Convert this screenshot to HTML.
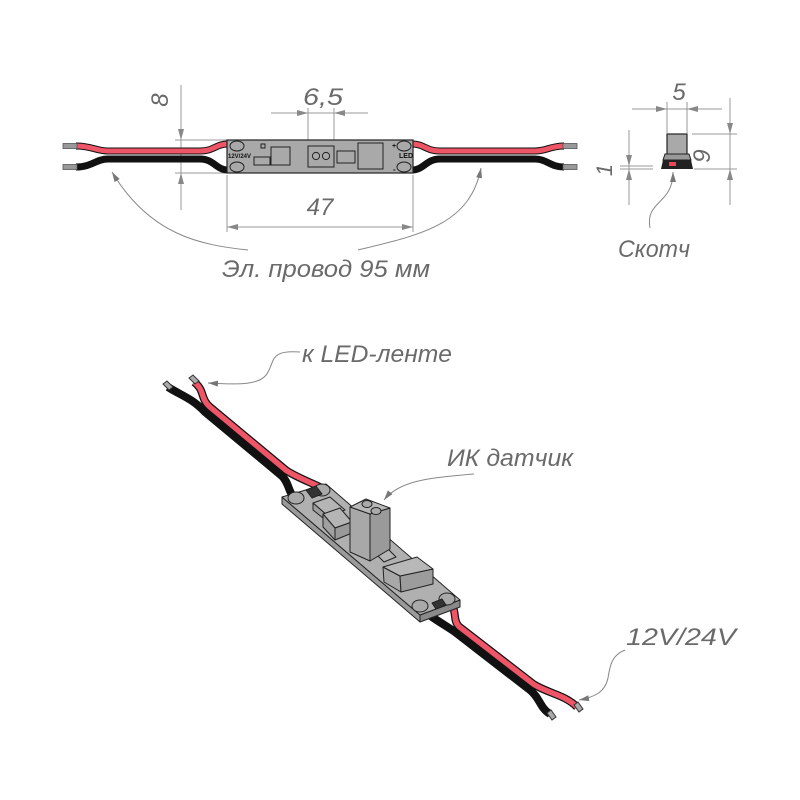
<!DOCTYPE html>
<html><head><meta charset="utf-8"><style>
html,body{margin:0;padding:0;background:#fff;}
svg{display:block}
text{font-family:"Liberation Sans",sans-serif;font-style:italic;fill:#6a6a6a;}
</style></head><body>
<svg width="800" height="800" viewBox="0 0 800 800" xmlns="http://www.w3.org/2000/svg">
<defs>
<marker id="a" viewBox="0 0 10 6" refX="10" refY="3" markerWidth="10" markerHeight="6" orient="auto" markerUnits="userSpaceOnUse"><path d="M0,0L10,3L0,6z" fill="#777"/></marker>
</defs>
<g stroke="#999" stroke-width="1" fill="none">
<line x1="181" y1="85" x2="181" y2="210"/>
<line x1="175" y1="140" x2="227" y2="140"/>
<line x1="175" y1="173" x2="227" y2="173"/>
<line x1="308" y1="108" x2="308" y2="140"/>
<line x1="334" y1="108" x2="334" y2="140"/>
<line x1="271" y1="113" x2="368" y2="113"/>
<line x1="227" y1="175" x2="227" y2="232"/>
<line x1="413" y1="175" x2="413" y2="232"/>
<line x1="227" y1="227" x2="413" y2="227"/>
<line x1="632" y1="109" x2="722" y2="109"/>
<line x1="667" y1="102" x2="667" y2="133"/>
<line x1="687" y1="102" x2="687" y2="133"/>
<line x1="730" y1="98" x2="730" y2="205"/>
<line x1="692" y1="134" x2="737" y2="134"/>
<line x1="694" y1="169" x2="737" y2="169"/>
<line x1="629" y1="130" x2="629" y2="205"/>
<line x1="620" y1="166" x2="653" y2="166"/>
<line x1="620" y1="169" x2="653" y2="169"/>
</g>
<g fill="#888">
<path d="M181,140l-3,-11h6z"/><path d="M181,173l-3,11h6z"/>
<path d="M308,113l-11,-3v6z"/><path d="M334,113l11,-3v6z"/>
<path d="M227,227l11,-3v6z"/><path d="M413,227l-11,-3v6z"/>
<path d="M667,109l-11,-3v6z"/><path d="M687,109l11,-3v6z"/>
<path d="M730,134l-3,-11h6z"/><path d="M730,169l-3,11h6z"/>
<path d="M629,166l-3,-11h6z"/><path d="M629,169l-3,11h6z"/>
</g>
<g fill="none" stroke-linecap="butt">
<path d="M76,167C92,167 96,159 108,159H200C214,159 216,170 228,170" stroke="#111" stroke-width="7"/>
<path d="M76,146C92,146 96,151 108,151H200C214,151 216,144 228,144" stroke="#111" stroke-width="7"/>
<path d="M76,146C92,146 96,151 108,151H200C214,151 216,144 228,144" stroke="#ee5566" stroke-width="5"/>
<path d="M412,170C424,170 426,159 440,159H535C547,159 550,167 564,167" stroke="#111" stroke-width="7"/>
<path d="M412,144C424,144 426,151 440,151H535C547,151 550,146 564,146" stroke="#111" stroke-width="7"/>
<path d="M412,144C424,144 426,151 440,151H535C547,151 550,146 564,146" stroke="#ee5566" stroke-width="5"/>
</g>
<g fill="#999" stroke="#555" stroke-width="0.8">
<rect x="63" y="143.5" width="14" height="5"/><rect x="63" y="164.5" width="14" height="5"/>
<rect x="563" y="143.5" width="14" height="5"/><rect x="563" y="164.5" width="14" height="5"/>
</g>
<rect x="227" y="140" width="186" height="33" fill="#a9a9a9" stroke="#222" stroke-width="1.2"/>
<g fill="#a9a9a9" stroke="#222" stroke-width="1">
<ellipse cx="237" cy="146" rx="7" ry="5"/><ellipse cx="237" cy="167" rx="7" ry="5"/>
<ellipse cx="404" cy="146" rx="7" ry="5"/><ellipse cx="404" cy="167" rx="7" ry="5"/>
<rect x="261" y="144" width="4" height="4"/>
<rect x="271" y="147" width="19" height="18"/>
<rect x="254" y="157" width="16" height="8"/>
<rect x="308" y="146" width="26" height="21"/>
<circle cx="316" cy="156" r="3.6"/><circle cx="326" cy="156" r="3.6"/>
<rect x="337" y="151" width="18" height="12"/>
<rect x="358" y="143" width="25" height="26"/>
</g>
<text x="228" y="158" style="font-size:6px;font-style:normal;font-weight:bold;fill:#111">12V/24V</text>
<text x="399" y="158" style="font-size:7px;font-style:normal;font-weight:bold;fill:#111">LED</text>
<text x="392" y="148" style="font-size:7px;font-style:normal;font-weight:bold;fill:#111">+</text>
<text x="393" y="172" style="font-size:8px;font-style:normal;font-weight:bold;fill:#111">-</text>
<rect x="667" y="134" width="20" height="26" fill="#a9a9a9" stroke="#222" stroke-width="1.2"/>
<path d="M663,160L665,154H689L691,160Z" fill="#999" stroke="#222"/>
<path d="M661,169L663,160H691L693,169Z" fill="#222"/>
<rect x="669" y="162" width="7" height="4" fill="#ee4455"/>
<text x="168" y="100" transform="rotate(-90 168 100)" style="font-size:24px" text-anchor="middle">8</text>
<text x="323" y="105" style="font-size:24px" text-anchor="middle" textLength="40" lengthAdjust="spacingAndGlyphs">6,5</text>
<text x="320" y="215" style="font-size:24px" text-anchor="middle">47</text>
<text x="679" y="100" style="font-size:24px" text-anchor="middle">5</text>
<text x="702" y="148" transform="rotate(-90 710 148)" style="font-size:24px" text-anchor="middle">9</text>
<text x="605" y="163" transform="rotate(-90 612 163)" style="font-size:22px" text-anchor="middle">1</text>
<text x="222" y="277" style="font-size:24px" textLength="208" lengthAdjust="spacingAndGlyphs">Эл. провод 95 мм</text>
<text x="618" y="257" style="font-size:24px" textLength="72" lengthAdjust="spacingAndGlyphs">Скотч</text>
<g fill="none" stroke="#888" stroke-width="1">
<path d="M248,250C200,245 150,235 112,172" marker-end="url(#a)"/>
<path d="M358,250C420,235 470,225 481,168" marker-end="url(#a)"/>
<path d="M650,228C645,200 673,205 673,172" marker-end="url(#a)"/>
</g>
<!-- 3D wires -->
<g fill="none">
<path d="M168,387C180,395 192,398 205,412L282,476C290,484 288,494 296,498" stroke="#111" stroke-width="8"/>
<path d="M194,382C205,390 200,398 209.5,406.6L286.5,470.6C298,478 310,482 322,488" stroke="#111" stroke-width="8"/>
<path d="M194,382C205,390 200,398 209.5,406.6L286.5,470.6C298,478 310,482 322,488" stroke="#ee5566" stroke-width="5.5"/>
<path d="M420,608C432,618 445,625 455,632L530,690C540,698 540,708 550,714" stroke="#111" stroke-width="8"/>
<path d="M448,600C458,608 452,620 459,626.5L534,684.5C550,694 565,695 577,707" stroke="#111" stroke-width="8"/>
<path d="M448,600C458,608 452,620 459,626.5L534,684.5C550,694 565,695 577,707" stroke="#ee5566" stroke-width="5.5"/>
</g>
<g fill="#aaa" stroke="#333" stroke-width="1">
<path d="M163,384l4,-3l6,6l-4,3z"/><path d="M189,378l4,-3l6,6l-4,3z"/>
<path d="M547,713l4,-3l5,7l-4,3z"/><path d="M574,705l4,-3l5,7l-4,3z"/>
</g>
<g stroke="#222" stroke-width="1" stroke-linejoin="round">
<path d="M282,497L420,615L420,622L282,504Z" fill="#9a9a9a"/>
<path d="M420,615L460,600L460,607L420,622Z" fill="#8a8a8a"/>
<path d="M282,497L326,484L460,600L420,615Z" fill="#b0b0b0"/>
<ellipse cx="296" cy="498" rx="8" ry="6" fill="#a9a9a9"/>
<ellipse cx="322" cy="490" rx="8" ry="6" fill="#a9a9a9"/>
<ellipse cx="420" cy="606" rx="8" ry="6" fill="#a9a9a9"/>
<ellipse cx="447" cy="599" rx="8" ry="6" fill="#a9a9a9"/>
<path d="M306,490L316,486L322,494L312,498Z" fill="#333"/>
<path d="M432,603L442,599L446,605L436,609Z" fill="#333"/>
<path d="M313,503L330,497L345,510L328,516Z" fill="#b5b5b5"/>
<path d="M313,503L328,516L328,522L313,510Z" fill="#a0a0a0"/>
<path d="M323,514L340,508L352,522L335,528Z" fill="#b5b5b5"/>
<path d="M323,514L335,528L335,540L323,527Z" fill="#a0a0a0"/>
<path d="M335,528L352,522L352,533L335,540Z" fill="#999"/>
<path d="M376,554L388,549L396,557L384,562Z" fill="#b5b5b5"/>
<path d="M350,507L370,514L370,561L350,552Z" fill="#a8a8a8"/>
<path d="M370,514L390,508L390,549L370,561Z" fill="#9a9a9a"/>
<path d="M350,507L366,499L390,508L370,514Z" fill="#b8b8b8"/>
<ellipse cx="367" cy="504" rx="5" ry="3.5" fill="#aaa"/>
<ellipse cx="376" cy="511" rx="5" ry="3.5" fill="#aaa"/>
<path d="M383,567L400,576L401,592L384,582Z" fill="#a8a8a8"/>
<path d="M400,576L433,569L433,584L401,592Z" fill="#9c9c9c"/>
<path d="M383,567L417,557L433,569L400,576Z" fill="#b8b8b8"/>
</g>
<text x="302" y="362" style="font-size:24px" textLength="150" lengthAdjust="spacingAndGlyphs">к LED-ленте</text>
<text x="447" y="466" style="font-size:24px" textLength="126" lengthAdjust="spacingAndGlyphs">ИК датчик</text>
<text x="626" y="645" style="font-size:24px" textLength="110" lengthAdjust="spacingAndGlyphs">12V/24V</text>
<g fill="none" stroke="#888" stroke-width="1">
<path d="M300,352C270,350 275,360 268,372C262,385 240,385 208,383" marker-end="url(#a)"/>
<path d="M474,474C430,478 400,480 384,500" marker-end="url(#a)"/>
<path d="M625,650C612,655 610,665 608,678C605,692 595,697 579,700" marker-end="url(#a)"/>
</g>
</svg>
</body></html>
